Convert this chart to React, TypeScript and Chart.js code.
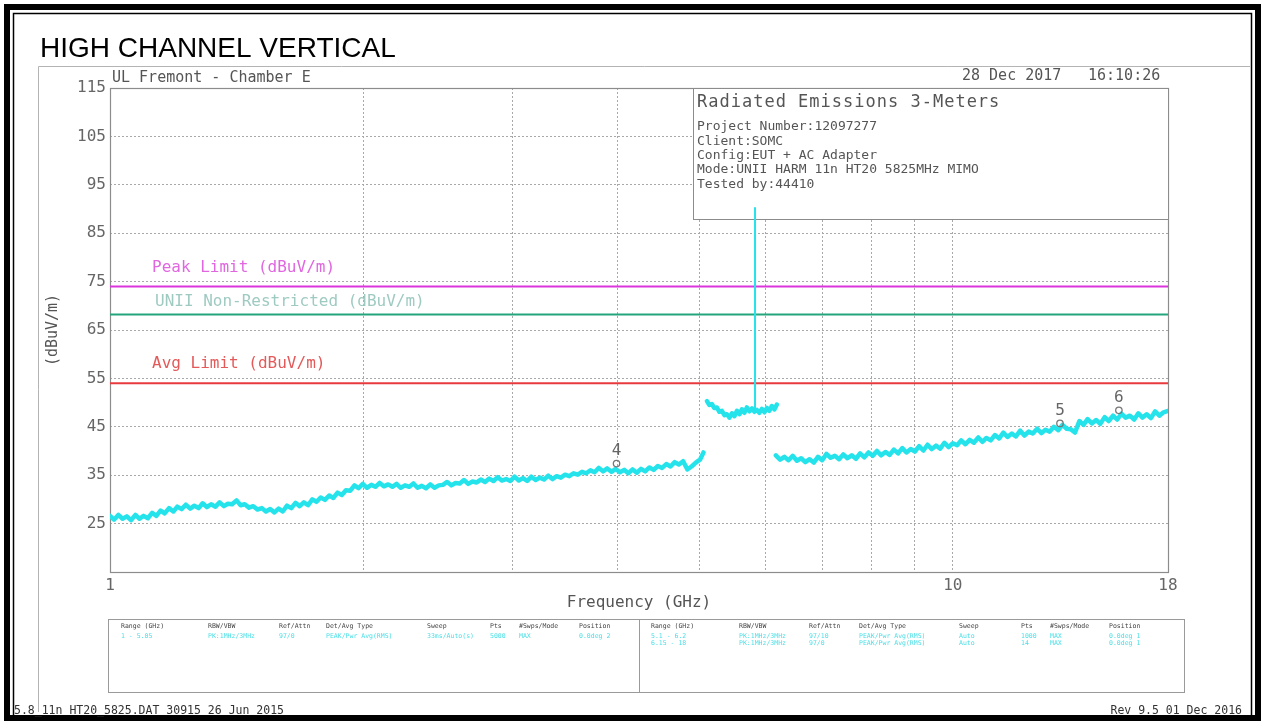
import React, { useEffect, useRef } from 'react';
import { Chart, registerables } from 'chart.js';
Chart.register(...registerables);

// ---- data (GHz, dBuV/m) ----
const seg1Freq = [
  1.000, 1.011, 1.023, 1.035, 1.047, 1.059, 1.072, 1.084, 1.096, 1.109,
  1.122, 1.135, 1.148, 1.161, 1.175, 1.189, 1.202, 1.216, 1.230, 1.245,
  1.259, 1.274, 1.288, 1.303, 1.318, 1.334, 1.349, 1.365, 1.380, 1.396,
  1.413, 1.429, 1.445, 1.462, 1.479, 1.496, 1.514, 1.531, 1.549, 1.567,
  1.585, 1.603, 1.622, 1.641, 1.660, 1.679, 1.698, 1.718, 1.738, 1.758,
  1.778, 1.799, 1.820, 1.841, 1.862, 1.884, 1.905, 1.928, 1.950, 1.972,
  1.995, 2.018, 2.042, 2.065, 2.089, 2.113, 2.138, 2.163, 2.188, 2.213,
  2.239, 2.265, 2.291, 2.317, 2.344, 2.371, 2.399, 2.427, 2.455, 2.483,
  2.512, 2.541, 2.570, 2.600, 2.630, 2.661, 2.692, 2.723, 2.754, 2.786,
  2.818, 2.851, 2.884, 2.917, 2.951, 2.985, 3.020, 3.055, 3.090, 3.126,
  3.162, 3.199, 3.236, 3.273, 3.311, 3.349, 3.388, 3.427, 3.467, 3.507,
  3.548, 3.589, 3.631, 3.673, 3.715, 3.758, 3.802, 3.846, 3.890, 3.935,
  3.981, 4.027, 4.074, 4.121, 4.169, 4.217, 4.266, 4.315, 4.365, 4.416,
  4.467, 4.519, 4.571, 4.624, 4.677, 4.731, 4.786, 4.842, 4.898, 4.955,
  5.012, 5.060];
const seg1Level = [
  26.6, 25.8, 26.8, 26.0, 26.5, 25.7, 26.8, 26.0, 26.6, 26.1,
  27.2, 26.6, 27.7, 27.1, 28.2, 27.5, 28.5, 28.0, 28.9, 28.1,
  28.7, 28.2, 29.2, 28.4, 29.0, 28.5, 29.4, 28.6, 29.1, 29.0,
  29.8, 28.8, 29.0, 28.3, 28.6, 27.9, 28.2, 27.5, 28.0, 27.3,
  28.1, 27.5, 28.7, 28.2, 29.3, 28.6, 29.4, 28.8, 30.0, 29.5,
  30.4, 29.9, 30.8, 30.3, 31.4, 30.9, 31.9, 31.8, 32.9, 32.3,
  33.2, 32.4, 33.0, 32.6, 33.4, 32.7, 33.1, 32.6, 33.2, 32.4,
  32.9, 32.6, 33.3, 32.4, 32.8, 32.3, 33.1, 32.4, 32.9, 33.0,
  33.6, 32.9, 33.4, 33.3, 34.0, 33.2, 33.7, 33.5, 34.1, 33.6,
  34.3, 33.8, 34.6, 33.9, 34.2, 33.8, 34.7, 33.9, 34.4, 33.8,
  34.7, 34.0, 34.5, 34.1, 34.9, 34.2, 34.8, 34.5, 35.1, 34.8,
  35.4, 35.1, 35.7, 35.4, 36.0, 35.6, 36.5, 35.8, 36.4, 35.7,
  36.3, 35.6, 36.1, 35.4, 36.2, 35.5, 36.3, 35.8, 36.6, 36.1,
  36.9, 36.5, 37.3, 36.8, 37.7, 37.2, 37.9, 36.2, 36.8, 37.6,
  38.2, 39.7];
const seg2Freq = [5.108, 5.142, 5.177, 5.212, 5.248, 5.284, 5.321, 5.358, 5.395, 5.432,
  5.469, 5.507, 5.545, 5.582, 5.620, 5.658, 5.697, 5.736, 5.776, 5.815,
  5.855, 5.895, 5.935, 5.976, 6.017, 6.058, 6.099, 6.141, 6.183];
const seg2Level = [50.3, 49.5, 49.7, 48.9, 49.0, 48.1, 48.3, 47.4, 47.6, 46.9,
  47.8, 47.2, 48.3, 47.6, 48.6, 47.9, 49.0, 48.2, 48.8, 48.1,
  48.5, 47.9, 48.7, 48.0, 48.9, 48.3, 49.3, 48.6, 49.6];
const seg3Freq = [
  6.166, 6.238, 6.310, 6.383, 6.457, 6.531, 6.607, 6.683, 6.761, 6.839,
  6.918, 6.998, 7.079, 7.161, 7.244, 7.328, 7.413, 7.499, 7.586, 7.674,
  7.762, 7.852, 7.943, 8.035, 8.128, 8.222, 8.318, 8.414, 8.511, 8.610,
  8.710, 8.810, 8.913, 9.016, 9.120, 9.226, 9.333, 9.441, 9.550, 9.661,
  9.772, 9.886, 10.00, 10.12, 10.23, 10.35, 10.47, 10.59, 10.72, 10.84,
  10.96, 11.09, 11.22, 11.35, 11.48, 11.61, 11.75, 11.88, 12.02, 12.16,
  12.30, 12.44, 12.59, 12.74, 12.88, 13.03, 13.18, 13.34, 13.49, 13.65,
  13.80, 13.96, 14.13, 14.29, 14.45, 14.62, 14.79, 14.96, 15.14, 15.31,
  15.49, 15.67, 15.85, 16.03, 16.22, 16.41, 16.60, 16.79, 16.98, 17.18,
  17.38, 17.58, 17.78, 18.00];
const seg3Level = [
  39.1, 38.2, 38.8, 38.1, 39.0, 38.0, 38.5, 37.7, 38.3, 37.6,
  38.8, 38.1, 39.4, 38.6, 39.0, 38.3, 39.3, 38.5, 39.1, 38.4,
  39.5, 38.7, 39.7, 39.0, 40.0, 39.1, 39.8, 39.2, 40.3, 39.5,
  40.6, 39.7, 40.4, 39.9, 41.0, 40.1, 41.3, 40.4, 41.1, 40.5,
  41.7, 40.8, 41.6, 41.2, 42.2, 41.4, 42.3, 41.7, 42.8, 41.9,
  42.7, 42.2, 43.3, 42.6, 43.8, 42.9, 43.6, 43.0, 44.2, 43.2,
  44.0, 43.6, 44.6, 43.7, 44.4, 44.0, 45.0, 44.3, 45.4, 44.6,
  44.5, 43.8, 46.2, 45.4, 46.6, 45.7, 46.4, 45.6, 47.0, 46.2,
  47.3, 46.5, 47.7, 46.9, 47.3, 46.5, 47.8, 46.9, 47.6, 46.8,
  48.2, 47.3, 48.0, 48.3];
const spikeFreq = [5.825, 5.825];
const spikeLevel = [48.4, 90.2];

const peakLimit = 74;
const uniiLimit = 68.2;
const avgLimit = 54;
const limitNames = ['Peak Limit (dBuV/m)', 'UNII Non-Restricted (dBuV/m)', 'Avg Limit (dBuV/m)'];

const markerNames = ['4', '5', '6'];
const markerFreq = [3.99, 13.4, 15.74];
const markerLevel = [37.4, 45.7, 48.4];

const xTicks = [1, 2, 3, 4, 5, 6, 7, 8, 9, 10, 18];
const xLabelled = [1, 10, 18];
const yTicks = [15, 25, 35, 45, 55, 65, 75, 85, 95, 105, 115];

const titleText = 'HIGH CHANNEL VERTICAL';
const siteText = 'UL Fremont - Chamber E';
const dateText = '28 Dec 2017';
const timeText = '16:10:26';
const infoTitle = 'Radiated Emissions 3-Meters';
const infoLines = ['Project Number:12097277', 'Client:SOMC', 'Config:EUT + AC Adapter', 'Mode:UNII HARM 11n HT20 5825MHz MIMO', 'Tested by:44410'];
const tableHeaders = ['Range (GHz)', 'RBW/VBW', 'Ref/Attn', 'Det/Avg Type', 'Sweep', 'Pts', '#Swps/Mode', 'Position'];
const tableLeftRows = [['1 - 5.05', 'PK:1MHz/3MHz', '97/0', 'PEAK/Pwr Avg(RMS)', '33ms/Auto(s)', '5000', 'MAX', '0.0deg 2']];
const tableRightRows = [
  ['5.1 - 6.2', 'PK:1MHz/3MHz', '97/10', 'PEAK/Pwr Avg(RMS)', 'Auto', '1000', 'MAX', '0.0deg 1'],
  ['6.15 - 18', 'PK:1MHz/3MHz', '97/0', 'PEAK/Pwr Avg(RMS)', 'Auto', '14', 'MAX', '0.0deg 1'],
];
const footerLeft = '5.8_11n HT20_5825.DAT 30915 26 Jun 2015';
const footerRight = 'Rev 9.5 01 Dec 2016';

const MONO = '"DejaVu Sans Mono", monospace';
const TRACE = '#25e3ea';

const pts = (fx: number[], ly: number[]) => fx.map((f, i) => ({ x: f, y: ly[i] }));

const decor = {
  id: 'decor',
  beforeDraw(chart: any) {
    const ctx = chart.ctx as CanvasRenderingContext2D;
    ctx.save();
    ctx.fillStyle = '#fff';
    ctx.fillRect(0, 0, 1261, 721);
    // outer frame
    ctx.fillStyle = '#000';
    ctx.fillRect(4, 4, 1257, 6);
    ctx.fillRect(4, 4, 6, 717);
    ctx.fillRect(1255, 4, 6, 717);
    ctx.fillRect(4, 715, 1257, 6);
    ctx.strokeStyle = '#000';
    ctx.lineWidth = 1.5;
    ctx.beginPath();
    ctx.moveTo(13.5, 715); ctx.lineTo(13.5, 13.5); ctx.lineTo(1251.5, 13.5); ctx.lineTo(1251.5, 715);
    ctx.stroke();
    // plot image frame
    ctx.strokeStyle = '#b4b4b4';
    ctx.lineWidth = 1;
    ctx.beginPath();
    ctx.moveTo(38.5, 712); ctx.lineTo(38.5, 66.5); ctx.lineTo(1250, 66.5);
    ctx.stroke();
    // title
    ctx.fillStyle = '#000';
    ctx.font = '28px "Liberation Sans", Arial, sans-serif';
    ctx.textBaseline = 'alphabetic';
    ctx.textAlign = 'left';
    ctx.fillText(titleText, 40, 57);
    // header line
    ctx.fillStyle = '#555';
    ctx.font = '15px ' + MONO;
    ctx.textBaseline = 'middle';
    ctx.fillText(siteText, 112, 78);
    ctx.fillText(dateText, 962, 76);
    ctx.fillText(timeText, 1088, 76);
    // bottom table
    ctx.strokeStyle = '#9a9a9a';
    ctx.lineWidth = 1;
    ctx.strokeRect(108.5, 619.5, 1076, 73);
    ctx.beginPath();
    ctx.moveTo(639.5, 619.5); ctx.lineTo(639.5, 692.5);
    ctx.stroke();
    const leftCols = [121, 208, 279, 326, 427, 490, 519, 579];
    const rightCols = [651, 739, 809, 859, 959, 1021, 1050, 1109];
    ctx.font = '6.5px ' + MONO;
    ctx.fillStyle = '#444';
    tableHeaders.forEach((h, i) => {
      ctx.fillText(h, leftCols[i], 626);
      ctx.fillText(h, rightCols[i], 626);
    });
    ctx.fillStyle = '#47dfe6';
    tableLeftRows.forEach((row, r) => row.forEach((c, i) => ctx.fillText(c, leftCols[i], 636 + r * 7)));
    tableRightRows.forEach((row, r) => row.forEach((c, i) => ctx.fillText(c, rightCols[i], 636 + r * 7)));
    // footer
    ctx.fillStyle = '#333';
    ctx.font = '11.5px ' + MONO;
    ctx.fillText(footerLeft, 14, 711);
    ctx.textAlign = 'right';
    ctx.fillText(footerRight, 1242, 711);
    ctx.restore();
  },
  beforeDatasetsDraw(chart: any) {
    const ctx = chart.ctx as CanvasRenderingContext2D;
    const a = chart.chartArea;
    const ys = chart.scales.y;
    ctx.save();
    // plot border
    ctx.strokeStyle = '#8c8c8c';
    ctx.lineWidth = 1.2;
    ctx.strokeRect(a.left + 0.5, a.top + 0.5, a.right - a.left, a.bottom - a.top);
    // info box
    ctx.fillStyle = '#fff';
    ctx.fillRect(693, a.top, a.right - 693, 131);
    ctx.strokeStyle = '#8c8c8c';
    ctx.lineWidth = 1;
    ctx.strokeRect(693.5, a.top + 0.5, a.right - 693, 131);
    ctx.fillStyle = '#555';
    ctx.textBaseline = 'middle';
    ctx.textAlign = 'left';
    ctx.font = '17px ' + MONO;
    (ctx as any).letterSpacing = '1px';
    ctx.fillText(infoTitle, 697, 103);
    (ctx as any).letterSpacing = '0px';
    ctx.font = '13px ' + MONO;
    infoLines.forEach((l, i) => ctx.fillText(l, 697, 127 + i * 14.3));
    // limit labels
    ctx.font = '16px ' + MONO;
    const lim = [peakLimit, uniiLimit, avgLimit];
    const cols = ['#e067e0', '#9fcac2', '#e45a5a'];
    const off = [19, 13, 19];
    const dx = [42, 45, 42];
    lim.forEach((v, i) => {
      ctx.fillStyle = cols[i];
      ctx.fillText(limitNames[i], a.left + dx[i], ys.getPixelForValue(v) - off[i]);
    });
    ctx.restore();
  },
  afterDatasetsDraw(chart: any) {
    const ctx = chart.ctx as CanvasRenderingContext2D;
    const xs = chart.scales.x;
    const ys = chart.scales.y;
    ctx.save();
    ctx.fillStyle = '#666';
    ctx.font = '16px ' + MONO;
    ctx.textAlign = 'center';
    ctx.textBaseline = 'middle';
    markerNames.forEach((n, i) => {
      ctx.fillText(n, xs.getPixelForValue(markerFreq[i]), ys.getPixelForValue(markerLevel[i]) - 13);
    });
    ctx.restore();
  },
};

export default function App() {
  const ref = useRef<HTMLCanvasElement>(null);
  useEffect(() => {
    const line = (data: any[], color: string, width: number) => ({
      type: 'line', data, borderColor: color, backgroundColor: color, borderWidth: width,
      pointRadius: 0, tension: 0, borderJoinStyle: 'round', borderCapStyle: 'round',
    });
    const chart = new Chart(ref.current as HTMLCanvasElement, {
      type: 'line',
      data: {
        datasets: [
          {
            type: 'line', data: pts(markerFreq, markerLevel), showLine: false,
            pointStyle: 'circle', pointRadius: 3.2, pointBorderWidth: 1.3,
            pointBorderColor: '#777', pointBackgroundColor: 'rgba(0,0,0,0)',
          } as any,
          line(pts(spikeFreq, spikeLevel), TRACE, 2),
          line(pts(seg1Freq, seg1Level), TRACE, 4.5),
          line(pts(seg2Freq, seg2Level), TRACE, 4.5),
          line(pts(seg3Freq, seg3Level), TRACE, 4.5),
          line([{ x: 1, y: peakLimit }, { x: 18, y: peakLimit }], '#dc35dc', 2),
          line([{ x: 1, y: uniiLimit }, { x: 18, y: uniiLimit }], '#25a57d', 2),
          line([{ x: 1, y: avgLimit }, { x: 18, y: avgLimit }], '#e83a3e', 2),
        ] as any,
      },
      options: {
        responsive: false,
        animation: false,
        devicePixelRatio: 1,
        layout: { padding: { left: 0, right: 93, top: 88, bottom: 0 } },
        plugins: { legend: { display: false }, tooltip: { enabled: false } },
        scales: {
          x: {
            type: 'logarithmic', min: 1, max: 18,
            afterBuildTicks: (s: any) => { s.ticks = xTicks.map((v) => ({ value: v })); },
            afterFit: (s: any) => { s.height = 149; },
            ticks: {
              autoSkip: false, maxRotation: 0, minRotation: 0, padding: 4,
              color: '#666', font: { family: MONO, size: 16 },
              callback: (v: any) => (xLabelled.includes(Number(v)) ? String(v) : ''),
            },
            grid: { color: '#a8a8a8', lineWidth: 1, drawTicks: false },
            border: { display: false, dash: [2, 2] },
            title: { display: true, text: 'Frequency (GHz)', color: '#555', font: { family: MONO, size: 16 }, padding: { top: 0, bottom: 109 } },
          },
          y: {
            type: 'linear', min: 15, max: 115,
            afterBuildTicks: (s: any) => { s.ticks = yTicks.map((v) => ({ value: v })); },
            afterFit: (s: any) => { s.width = 110; },
            ticks: {
              padding: 4, color: '#666', font: { family: MONO, size: 16 },
              callback: (v: any) => (Number(v) === 15 ? '' : String(v)),
            },
            grid: { color: '#a8a8a8', lineWidth: 1, drawTicks: false },
            border: { display: false, dash: [2, 2] },
            title: { display: true, text: '(dBuV/m)', color: '#555', font: { family: MONO, size: 15 }, padding: { top: 44, bottom: 0 } },
          },
        },
      } as any,
      plugins: [decor as any],
    });
    return () => chart.destroy();
  }, []);
  return (
    <div style={{ position: 'fixed', left: 0, top: 0, width: 1261, height: 721, background: '#fff' }}>
      <canvas ref={ref} width={1261} height={721} style={{ display: 'block', width: 1261, height: 721 }} />
    </div>
  );
}
